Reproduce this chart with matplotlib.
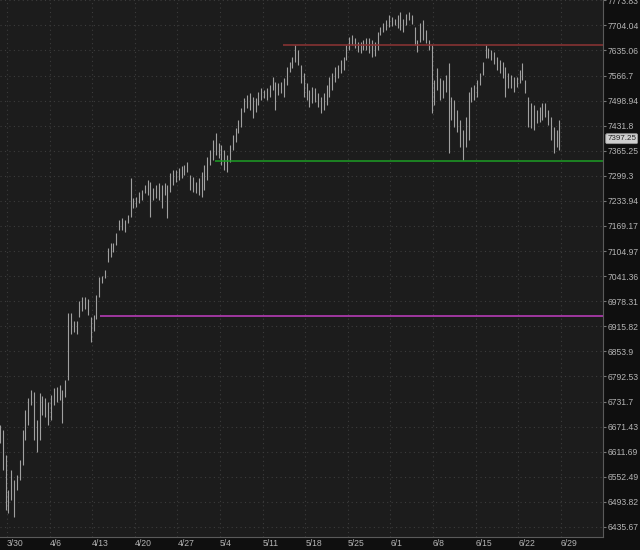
import numpy as np
import matplotlib.pyplot as plt
from matplotlib.ticker import FixedLocator, NullLocator

plt.rcParams['font.family'] = ['Liberation Sans', 'DejaVu Sans']

# intraday bars, 3 per trading day, starting with the last 3 bars of 3/27
bar_high = [
    6675, 6663, 6604, 6522, 6569, 6545, 6557, 6592, 6663, 6711,
    6740, 6759, 6755, 6687, 6752, 6745, 6740, 6730, 6747, 6764,
    6767, 6772, 6759, 6784, 6950, 6950, 6928, 6928, 6978, 6988,
    6990, 6983, 6938, 6945, 6995, 7039, 7042, 7057, 7113, 7125,
    7125, 7151, 7184, 7189, 7184, 7197, 7293, 7241, 7244, 7257,
    7262, 7275, 7288, 7283, 7267, 7275, 7280, 7275, 7280, 7275,
    7306, 7314, 7314, 7319, 7325, 7327, 7335, 7301, 7296, 7283,
    7293, 7309, 7327, 7348, 7367, 7393, 7412, 7385, 7380, 7367,
    7353, 7380, 7406, 7425, 7446, 7478, 7505, 7513, 7519, 7508,
    7505, 7521, 7532, 7527, 7532, 7540, 7562, 7548, 7546, 7548,
    7559, 7589, 7603, 7616, 7649, 7635, 7594, 7573, 7546, 7527,
    7535, 7532, 7519, 7508, 7519, 7540, 7562, 7573, 7589, 7594,
    7608, 7616, 7649, 7671, 7677, 7668, 7657, 7657, 7663, 7668,
    7668, 7663, 7657, 7685, 7699, 7710, 7718, 7732, 7726, 7723,
    7732, 7740, 7723, 7735, 7740, 7732, 7699, 7663, 7712, 7718,
    7690, 7663, 7649, 7554, 7586, 7559, 7554, 7567, 7600, 7508,
    7500, 7473, 7446, 7420, 7454, 7521, 7535, 7540, 7554, 7573,
    7603, 7649, 7641, 7635, 7630, 7616, 7608, 7603, 7589, 7573,
    7567, 7562, 7562, 7581, 7600, 7554, 7508, 7492, 7486, 7473,
    7481, 7492, 7492, 7473, 7454, 7428, 7420, 7446,
]
bar_low = [
    6632, 6569, 6475, 6468, 6498, 6459, 6522, 6545, 6580, 6639,
    6675, 6723, 6639, 6611, 6639, 6699, 6694, 6675, 6687, 6723,
    6730, 6735, 6680, 6743, 6784, 6896, 6901, 6896, 6938, 6953,
    6958, 6945, 6876, 6903, 6933, 6988, 7024, 7037, 7077, 7090,
    7103, 7120, 7159, 7159, 7154, 7177, 7192, 7215, 7218, 7228,
    7236, 7254, 7249, 7192, 7236, 7241, 7236, 7215, 7249, 7189,
    7257, 7275, 7283, 7288, 7293, 7301, 7309, 7262, 7257, 7254,
    7249, 7244, 7262, 7288, 7327, 7340, 7353, 7346, 7327, 7314,
    7309, 7335, 7367, 7388, 7412, 7428, 7468, 7478, 7473, 7452,
    7468, 7486, 7500, 7505, 7500, 7508, 7527, 7473, 7513, 7519,
    7508, 7540, 7575, 7586, 7603, 7594, 7546, 7508, 7500, 7481,
    7492, 7494, 7481, 7465, 7473, 7486, 7508, 7527, 7548, 7559,
    7573, 7581, 7608, 7635, 7649, 7641, 7630, 7627, 7635, 7635,
    7627, 7616, 7619, 7635, 7677, 7685, 7690, 7699, 7701, 7704,
    7696, 7690, 7685, 7704, 7718, 7707, 7649, 7630, 7657, 7663,
    7655, 7635, 7465, 7486, 7527, 7500, 7505, 7521, 7359, 7446,
    7428, 7414, 7375, 7340, 7375, 7393, 7494, 7500, 7508, 7540,
    7567, 7614, 7614, 7608, 7597, 7581, 7573, 7559, 7508, 7532,
    7532, 7521, 7535, 7546, 7554, 7519, 7428, 7425, 7420, 7438,
    7441, 7446, 7454, 7433, 7393, 7359, 7375, 7367,
]
last_price = 7397.25

week_labels = ['3/30', '4/6', '4/13', '4/20', '4/27', '5/4', '5/11', '5/18',
               '5/25', '6/1', '6/8', '6/15', '6/22', '6/29']
price_ticks = [6435.67, 6493.82, 6552.49, 6611.69, 6671.43, 6731.7, 6792.53,
               6853.9, 6915.82, 6978.31, 7041.36, 7104.97, 7169.17, 7233.94,
               7299.3, 7365.25, 7431.8, 7498.94, 7566.7, 7635.06, 7704.04, 7773.83]
price_tick_labels = ['6435.67', '6493.82', '6552.49', '6611.69', '6671.43', '6731.7',
                     '6792.53', '6853.9', '6915.82', '6978.31', '7041.36', '7104.97',
                     '7169.17', '7233.94', '7299.3', '7365.25', '7431.8', '7498.94',
                     '7566.7', '7635.06', '7704.04', '7773.83']

# horizontal levels: price, start day (trading days since 3/30), colour
level_prices = [7650.9, 7339.4, 6940.4]
level_start = [32.4, 24.4, 10.9]
level_colors = ['#8e3434', '#1c9e24', '#c23ec2']

bars_per_day = 3
first_day = -1
t = first_day + (np.arange(len(bar_high)) + 0.5) / bars_per_day

fig = plt.figure(figsize=(6.4, 5.5), dpi=100, facecolor='#0f0f0f')
ax = fig.add_axes([0.0, 13 / 550, 603 / 640, 537 / 550])
ax.set_facecolor('#1c1c1c')

ax.vlines(t, bar_low, bar_high, color='#a0a0a0', linewidth=0.8)

xmax = 69.95
for p, s, c in zip(level_prices, level_start, level_colors):
    ax.hlines(p, s, xmax, color=c, linewidth=1.1)

ax.set_yscale('log')
ax.set_ylim(6412.4, 7774.5)
ax.set_xlim(-0.82, xmax)

ax.yaxis.tick_right()
ax.yaxis.set_major_locator(FixedLocator(price_ticks))
ax.yaxis.set_minor_locator(NullLocator())
ax.set_yticklabels(price_tick_labels)
ax.tick_params(axis='y', which='major', direction='out', length=2.5, width=0.8,
               color='#777777', labelcolor='#b4b4b4', labelsize=6.2, pad=0.8)

ax.set_xticks(np.arange(len(week_labels)) * 5)
ax.set_xticklabels(week_labels, ha='left')
ax.tick_params(axis='x', direction='out', length=0, labelcolor='#b4b4b4',
               labelsize=6.2, pad=1.5)

ax.grid(True, color='#3c3c3c', linestyle=(0, (1, 3)), linewidth=0.8)
ax.set_axisbelow(True)

for side in ['top', 'left']:
    ax.spines[side].set_visible(False)
for side in ['right', 'bottom']:
    ax.spines[side].set_color('#5a5a5a')
    ax.spines[side].set_linewidth(0.8)

ax.annotate(f'{last_price:.2f}', xy=(1.0, last_price), xycoords=('axes fraction', 'data'),
            xytext=(3, 0), textcoords='offset points', va='center', ha='left',
            fontsize=5.8, color='#222222',
            bbox=dict(boxstyle='round,pad=0.18', fc='#cfcfcf', ec='#9a9a9a', lw=0.6))

fig.savefig('out.png', dpi=100, facecolor=fig.get_facecolor())
